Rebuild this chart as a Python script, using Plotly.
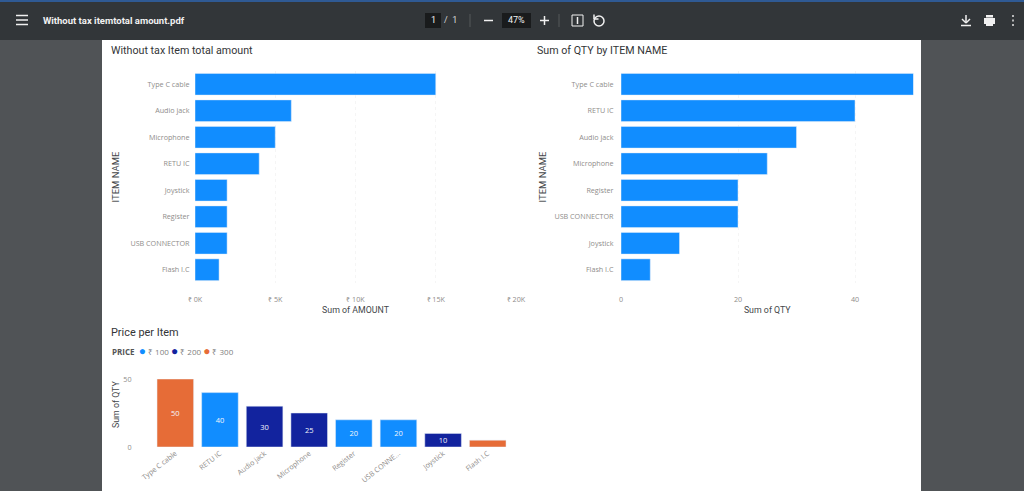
import plotly.graph_objects as go

W, H = 1024, 491

amount_items = ["Type C cable", "Audio jack", "Microphone", "RETU IC", "Joystick", "Register", "USB CONNECTOR", "Flash I.C"]
amount_values = [15000, 6000, 5000, 4000, 2000, 2000, 2000, 1500]
amount_ticks = [0, 5000, 10000, 15000, 20000]
amount_tick_labels = ["₹ 0K", "₹ 5K", "₹ 10K", "₹ 15K", "₹ 20K"]

qty_items = ["Type C cable", "RETU IC", "Audio jack", "Microphone", "Register", "USB CONNECTOR", "Joystick", "Flash I.C"]
qty_values = [50, 40, 30, 25, 20, 20, 10, 5]
qty_ticks = [0, 20, 40]

price_items = ["Type C cable", "RETU IC", "Audio jack", "Microphone", "Register", "USB CONNE...", "Joystick", "Flash I.C"]
price_qty = [50, 40, 30, 25, 20, 20, 10, 5]
price_labels = ["50", "40", "30", "25", "20", "20", "10", ""]
price_values = [300, 100, 200, 200, 100, 100, 200, 300]
price_colors = {100: "#118DFF", 200: "#12239E", 300: "#E66C37"}

BLUE = "#118DFF"
TICK = "#8f8d8b"
AXIS = "#44474a"
GRID = "#f5f5f5"
CLEAR = "rgba(0,0,0,0)"
TF = "Open Sans"
HF = "Roboto"


def fx(x):
    return x / W


def fy(y):
    return 1 - y / H


fig = go.Figure()

fig.add_trace(go.Bar(x=amount_values, y=amount_items, orientation="h", marker_color=BLUE,
                     xaxis="x", yaxis="y", showlegend=False))
fig.add_trace(go.Bar(x=qty_values, y=qty_items, orientation="h", marker_color=BLUE,
                     xaxis="x2", yaxis="y2", showlegend=False))
fig.add_trace(go.Bar(x=price_items, y=price_qty, marker_color=[price_colors[p] for p in price_values],
                     text=price_labels, textposition="inside", insidetextanchor="middle",
                     textangle=0, constraintext="none", textfont=dict(color="#f4f6fb", size=7.5, family=TF),
                     xaxis="x3", yaxis="y3", showlegend=False))

tickfont = dict(family=TF, size=7.2, color=TICK)
titlefont = dict(family=HF, size=9.5, color=AXIS)
xtitlefont = dict(family=HF, size=8.8, color=AXIS)

shapes = []


def rect(x0, y0, x1, y1, color, line=None):
    shapes.append(dict(type="rect", xref="paper", yref="paper", x0=fx(x0), x1=fx(x1), y0=fy(y0), y1=fy(y1),
                       fillcolor=color, line=dict(width=1 if line else 0, color=line or color), layer="below"))


def seg(x0, y0, x1, y1, color="#f1f1f1", w=1.5):
    shapes.append(dict(type="line", xref="paper", yref="paper", x0=fx(x0), x1=fx(x1), y0=fy(y0), y1=fy(y1),
                       line=dict(width=w, color=color), layer="above"))


# viewer background, page and toolbar
rect(0, 0, W, H, "#505356")
rect(102, 40, 921, H, "#ffffff")
rect(0, 0, W, 40, "#323639")
rect(0, 0, W, 2, "#2f5a94")
rect(425, 13, 441, 28, "#191b1c")
rect(502, 13, 531, 28, "#191b1c")
# hamburger
for yy in (15.5, 20, 24.5):
    seg(16, yy, 28, yy)
# separators and +/- controls
seg(470, 14, 470, 27, "#55585b", 1)
seg(559, 14, 559, 27, "#55585b", 1)
seg(484, 20.5, 493, 20.5)
seg(540, 20.5, 549, 20.5)
seg(544.5, 16, 544.5, 25)
# fit-to-page icon
rect(572, 15, 583, 26, "#323639", "#f1f1f1")
seg(577.5, 17, 577.5, 24, "#f1f1f1", 1.5)
# rotate icon
shapes.append(dict(type="circle", xref="paper", yref="paper", x0=fx(594), x1=fx(604), y0=fy(26), y1=fy(16),
                   line=dict(width=1.5, color="#f1f1f1"), fillcolor="#323639"))
rect(593, 14, 598, 18, "#323639")
seg(594, 14.5, 594, 19)
seg(594, 19, 598.5, 19)
# download icon
seg(966, 15, 966, 22)
seg(962, 19, 966, 23)
seg(970, 19, 966, 23)
seg(961, 25.5, 971, 25.5)
# print icon
rect(984, 18, 995, 24, "#f1f1f1")
rect(986, 15, 993, 17.5, "#f1f1f1")
rect(986, 22, 993, 26, "#f1f1f1")
# more icon
for yy in (16, 20.5, 25):
    seg(1012.3, yy, 1013.7, yy, "#f1f1f1", 2)


annotations = []


def label(x, y, text, size=9, color="#333333", family=TF, anchor="left", angle=0):
    annotations.append(dict(xref="paper", yref="paper", x=fx(x), y=fy(y), text=text, showarrow=False,
                            xanchor=anchor, yanchor="middle", textangle=angle, borderpad=0, borderwidth=0,
                            font=dict(size=size, color=color, family=family)))


label(43, 20.5, "<b>Without tax itemtotal amount.pdf</b>", 9.5, "#f1f1f1", "Roboto")
label(433, 20.5, "1", 9, "#f1f1f1", "Roboto", "center")
label(450, 20.5, "/  1", 9, "#d8d8d8", "Roboto", "center")
label(516.5, 20.5, "47%", 9, "#f1f1f1", "Roboto", "center")

label(111, 50, "Without tax Item total amount", 10.7, "#333537", HF)
label(537, 50, "Sum of QTY by ITEM NAME", 10.7, "#333537", HF)
label(111, 332, "Price per Item", 10.9, "#333537", HF)
label(116, 405, "Sum of QTY", 8.8, AXIS, HF, "center", -90)
dot = "<span style='color:{};font-size:12px'>●</span>"
label(112, 350,
      "<b><span style='color:#555'>PRICE</span></b>  " +
      " ".join(dot.format(price_colors[p]) + f" ₹ {p}" for p in price_colors),
      8, "#808080", TF)

fig.update_layout(
    width=W, height=H, autosize=False,
    margin=dict(l=0, r=0, t=0, b=0, autoexpand=False),
    paper_bgcolor="#505356", plot_bgcolor=CLEAR,
    bargap=0.18,
    shapes=shapes, annotations=annotations,
    xaxis=dict(domain=[fx(195), fx(516)], range=[0, 20000], tickvals=amount_ticks, ticktext=amount_tick_labels,
               tickfont=tickfont, gridcolor=GRID, griddash="dot", zeroline=False, showline=False, anchor="y",
               ticks="outside", ticklen=9, tickcolor=CLEAR,
               automargin=False, title=dict(text="Sum of AMOUNT", font=xtitlefont, standoff=4)),
    yaxis=dict(domain=[fy(283), fy(71)], autorange="reversed", tickfont=tickfont, anchor="x",
               showgrid=False, zeroline=False, showline=False, ticks="outside", ticklen=3, tickcolor=CLEAR,
               automargin=False, title=dict(text="ITEM NAME", font=titlefont, standoff=9)),
    xaxis2=dict(domain=[fx(621), fx(913.5)], range=[0, 50], tickvals=qty_ticks,
                tickfont=tickfont, gridcolor=GRID, griddash="dot", zeroline=False, showline=False, anchor="y2",
                ticks="outside", ticklen=9, tickcolor=CLEAR,
                automargin=False, title=dict(text="Sum of QTY", font=xtitlefont, standoff=4)),
    yaxis2=dict(domain=[fy(283), fy(71)], autorange="reversed", tickfont=tickfont, anchor="x2",
                showgrid=False, zeroline=False, showline=False, ticks="outside", ticklen=5, tickcolor=CLEAR,
                automargin=False, title=dict(text="ITEM NAME", font=titlefont, standoff=6)),
    xaxis3=dict(domain=[fx(153), fx(527)], range=[-0.5, 7.88], tickfont=tickfont, tickangle=-38,
                showgrid=False, zeroline=False, showline=False, anchor="y3", type="category",
                automargin=False, categoryorder="array", categoryarray=price_items),
    yaxis3=dict(domain=[fy(447), fy(379)], range=[0, 50], tickvals=[0, 50], tickfont=tickfont, anchor="x3",
                gridcolor=GRID, griddash="dot", zeroline=False, showline=False,
                ticks="outside", ticklen=19, tickcolor=CLEAR, automargin=False),
)

fig.write_html("out.html", config=dict(displayModeBar=False),
               post_script="document.body.style.margin='0';document.body.style.overflow='hidden';")
